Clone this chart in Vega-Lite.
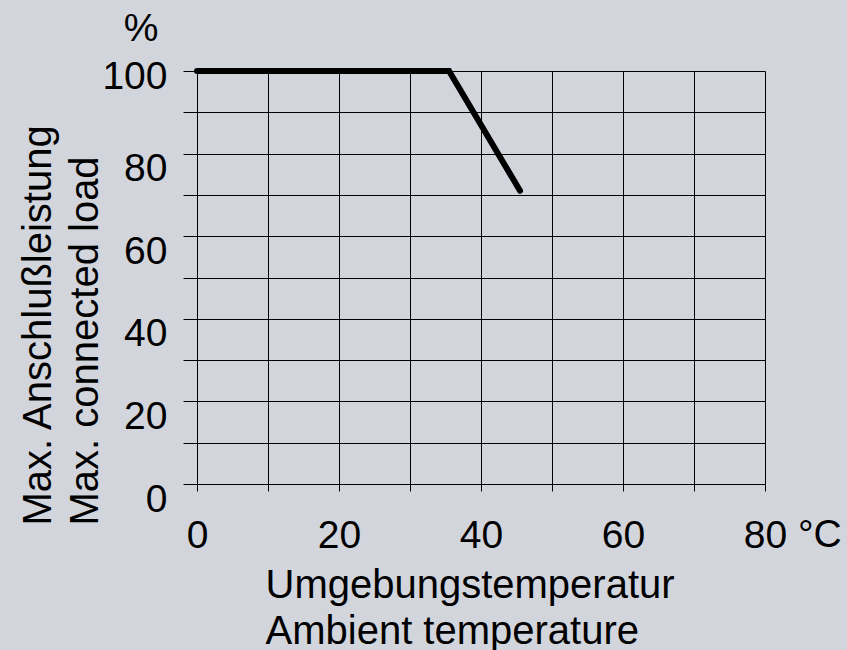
{
  "$schema": "https://vega.github.io/schema/vega-lite/v6.json",
  "width": 568,
  "height": 413,
  "autosize": {"type": "none"},
  "padding": {"left": 197, "top": 71, "right": 82, "bottom": 166},
  "background": "#d2d5dc",
  "config": {
    "view": {"stroke": null},
    "font": "Liberation Sans",
    "axis": {
      "domain": false,
      "grid": true,
      "gridColor": "#000000",
      "gridWidth": 1,
      "gridOpacity": 1,
      "tickColor": "#000000",
      "tickWidth": 1,
      "labelFont": "Liberation Sans",
      "labelFontSize": 39,
      "labelColor": "#000000",
      "titleFont": "Liberation Sans",
      "titleFontSize": 40,
      "titleFontWeight": "normal",
      "titleColor": "#000000",
      "labelOverlap": false,
      "labelFlush": false,
      "labelBound": false
    }
  },
  "layer": [
    {
      "data": {"values": [
        {"temp": 0, "load": 100},
        {"temp": 35.5, "load": 100},
        {"temp": 45.5, "load": 71}
      ]},
      "mark": {"type": "line", "color": "#000000", "strokeWidth": 6, "strokeCap": "round", "strokeJoin": "miter", "clip": false},
      "encoding": {
        "x": {
          "field": "temp", "type": "quantitative",
          "scale": {"domain": [0, 80], "nice": false, "zero": false},
          "axis": {
            "values": [0, 10, 20, 30, 40, 50, 60, 70, 80],
            "labelExpr": "datum.value % 20 == 0 ? datum.label : ''",
            "tickSize": 7,
            "labelPadding": 25,
            "labelBaseline": "top",
            "labelAlign": "center",
            "title": ["Umgebungstemperatur", "Ambient temperature"],
            "titleAlign": "left",
            "titleAnchor": "start",
            "titleBaseline": "alphabetic",
            "titleX": 68,
            "titleY": 113,
            "titleLineHeight": 46
          }
        },
        "y": {
          "field": "load", "type": "quantitative",
          "scale": {"domain": [0, 100], "nice": false, "zero": false},
          "axis": {
            "values": [0, 10, 20, 30, 40, 50, 60, 70, 80, 90, 100],
            "labelExpr": "datum.value % 20 == 0 ? datum.label : ''",
            "tickSize": 14,
            "labelPadding": 16,
            "labelBaseline": "middle",
            "labelOffset": {"condition": {"test": "datum.value == 100", "value": 5}, "value": 15},
            "title": ["Max. Anschlußleistung", "Max. connected load"],
            "titleAngle": -90,
            "titleAlign": "left",
            "titleAnchor": "start",
            "titleBaseline": "alphabetic",
            "titleX": -147,
            "titleY": 454,
            "titleLineHeight": 47
          }
        }
      }
    },
    {
      "data": {"values": [{"temp": 0, "load": 100, "txt": "%"}]},
      "mark": {"type": "text", "align": "center", "baseline": "alphabetic", "dx": -56, "dy": -30, "fontSize": 39, "font": "Liberation Sans", "color": "#000000", "clip": false},
      "encoding": {
        "x": {"field": "temp", "type": "quantitative"},
        "y": {"field": "load", "type": "quantitative"},
        "text": {"field": "txt"}
      }
    },
    {
      "data": {"values": [{"temp": 80, "load": 0, "txt": "°C"}]},
      "mark": {"type": "text", "align": "left", "baseline": "alphabetic", "dx": 33, "dy": 63, "fontSize": 39, "font": "Liberation Sans", "color": "#000000", "clip": false},
      "encoding": {
        "x": {"field": "temp", "type": "quantitative"},
        "y": {"field": "load", "type": "quantitative"},
        "text": {"field": "txt"}
      }
    }
  ]
}
